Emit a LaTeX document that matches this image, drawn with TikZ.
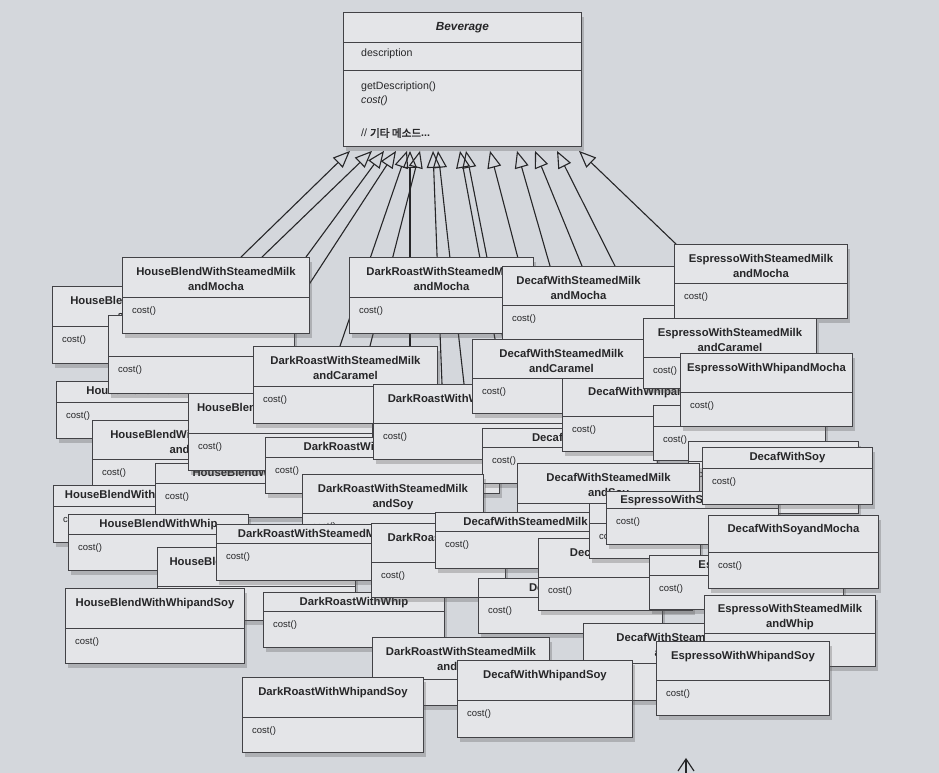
\documentclass[tikz,border=0pt]{standalone}
\usepackage{fontspec}
\setmainfont{Liberation Sans}
\newfontfamily\kofont{Noto Sans CJK KR}[AutoFakeBold=2]
\usepackage{xcolor}
\usepackage{tikz}
\usetikzlibrary{arrows.meta, positioning, calc, shadows}
\definecolor{paper}{RGB}{212,215,220}
\definecolor{clsfill}{RGB}{228,229,232}
\definecolor{clsborder}{RGB}{66,66,70}
\definecolor{inkgray}{RGB}{38,38,40}
\pgfdeclarelayer{background}
\pgfsetlayers{background,main}
\tikzstyle{cls} = [rectangle, anchor=north west, inner sep=0pt, draw=clsborder, fill=clsfill, line width=0.9pt, drop shadow={shadow xshift=3pt, shadow yshift=-5pt, fill=black!65, opacity=0.3}]
\tikzstyle{clsrule} = [draw=clsborder, line width=0.9pt]
\tikzstyle{clsname} = [anchor=north, inner sep=0pt, align=center, text=inkgray, font=\fontsize{11.3}{15}\selectfont\bfseries]
\tikzstyle{clsop} = [anchor=west, inner sep=0pt, text=inkgray, font=\fontsize{9.5}{11}\selectfont]
\tikzstyle{member} = [anchor=west, inner sep=0pt, text=inkgray, font=\fontsize{10.6}{12}\selectfont]
\tikzstyle{isa} = [draw=inkgray, line width=1.1pt, -{Triangle[open, length=17pt, width=14pt, line width=1.1pt]}]
% [name shift]{id}{left}{top}{width}{height}{header}{title}
\newcommand{\clsbox}[8][0]{%
  \node[cls, minimum width=#5pt, minimum height=#6pt] (#2) at (#3,#4) {};
  \draw[clsrule] ([yshift=-#7pt]#2.north west) -- ([yshift=-#7pt]#2.north east);
  \node[clsname] (#2-name) at ([xshift=#1pt, yshift={-#7pt/4}]#2.north) {#8};
  \node[clsop] (#2-op) at ([xshift=10pt, yshift={-#7pt-14pt}]#2.north west) {cost()};
}

\begin{document}
\begin{tikzpicture}[x=1pt, y=-1pt]
    \useasboundingbox (0,0) rectangle (939,773);
    \begin{pgfonlayer}{background}
        \fill[paper] (0,0) rectangle (939,773);
    \end{pgfonlayer}

    % Superclass
    \node[cls, minimum width=238pt, minimum height=134pt] (bev) at (343,12) {};
    \draw[clsrule] ([yshift=-30pt]bev.north west) -- ([yshift=-30pt]bev.north east);
    \draw[clsrule] ([yshift=-58pt]bev.north west) -- ([yshift=-58pt]bev.north east);
    \node[clsname, font=\fontsize{11.8}{15}\selectfont\bfseries\itshape] (bev-name) at ([yshift=-10pt]bev.north) {Beverage};
    \node[member] (bev-desc) at ([xshift=18pt, yshift=-42pt]bev.north west) {description};
    \node[member] (bev-get) at ([xshift=18pt, yshift=-75pt]bev.north west) {getDescription()};
    \node[member, font=\fontsize{10.6}{12}\selectfont\itshape] (bev-cost) at ([xshift=18pt, yshift=-89pt]bev.north west) {cost()};
    \node[member] (bev-etc) at ([xshift=18pt, yshift=-121pt]bev.north west) {// {\kofont\bfseries 기타 메소드}\textbf{...}};

    % Subclasses, back to front
    \clsbox{drsmm}{349}{257}{184}{76}{40}{DarkRoastWithSteamedMilk\\andMocha}
    \clsbox[-13]{dfsmm}{502}{266}{178}{74}{39}{DecafWithSteamedMilk\\andMocha}
    \clsbox{esmm}{674}{244}{173}{74}{39}{EspressoWithSteamedMilk\\andMocha}
    \clsbox{hbsmc}{52}{286}{195}{77}{40}{HouseBlendWithSteamedMilk\\andCaramel}
    \clsbox{hbm}{56}{381}{186}{57}{21}{HouseBlendWithMocha}
    \clsbox{hbsm}{108}{315}{186}{78}{41}{HouseBlendWithSteamedMilk}
    \clsbox{hbsmm}{122}{257}{187}{76}{40}{HouseBlendWithSteamedMilk\\andMocha}
    \clsbox{hbsms}{92}{420}{195}{67}{39}{HouseBlendWithSteamedMilk\\andSoy}
    \clsbox{hbs}{53}{485}{134}{57}{21}{HouseBlendWithSoy}
    \clsbox{hbwm}{155}{463}{248}{54}{20}{HouseBlendWithWhipandMocha}
    \clsbox{hbsoym}{188}{393}{184}{77}{40}{HouseBlendWithSoyandMocha}
    \clsbox{drsmc}{253}{346}{184}{77}{40}{DarkRoastWithSteamedMilk\\andCaramel}
    \clsbox{drsoym}{265}{437}{234}{56}{20}{DarkRoastWithSoyandMocha}
    \clsbox{drwm}{373}{384}{193}{75}{39}{DarkRoastWithWhipandMocha}
    \clsbox{dfsmc}{472}{339}{178}{74}{39}{DecafWithSteamedMilk\\andCaramel}
    \clsbox{dfsoy2}{482}{428}{175}{55}{19}{DecafWithSoy}
    \clsbox{dfwm}{562}{378}{190}{73}{38}{DecafWithWhipandMocha}
    \clsbox{esmc}{643}{318}{173}{70}{39}{EspressoWithSteamedMilk\\andCaramel}
    \clsbox{em}{653}{405}{172}{55}{21}{EspressoWithMocha}
    \clsbox{ewm}{680}{353}{172}{73}{39}{EspressoWithWhipandMocha}
    \clsbox{dfsoyw}{688}{441}{170}{72}{20}{}
    \clsbox{drsms}{302}{474}{181}{74}{39}{DarkRoastWithSteamedMilk\\andSoy}
    \clsbox{dfsms}{517}{463}{182}{77}{40}{DecafWithSteamedMilk\\andSoy}
    \clsbox{hbw}{68}{514}{180}{56}{20}{HouseBlendWithWhip}
    \clsbox{hbwmo}{157}{547}{198}{73}{39}{HouseBlendWithWhipandMocha}
    \clsbox{drw}{263}{592}{181}{55}{19}{DarkRoastWithWhip}
    \clsbox{drsm}{216}{524}{193}{56}{19}{DarkRoastWithSteamedMilk}
    \clsbox{drsoy}{371}{523}{134}{74}{39}{DarkRoastWithSoy}
    \clsbox{dfsm}{435}{512}{180}{56}{19}{DecafWithSteamedMilk}
    \clsbox{dfw}{478}{578}{184}{55}{19}{DecafWithWhip}
    \clsbox{dfm}{538}{538}{154}{72}{39}{DecafWithMocha}
    \clsbox{dfsw}{589}{503}{111}{55}{20}{}
    \clsbox{essm}{606}{491}{172}{53}{17}{EspressoWithSteamedMilk}
    \clsbox{dfsoy}{702}{447}{170}{57}{21}{DecafWithSoy}
    \clsbox{esoy}{649}{555}{194}{54}{20}{EspressoWithSoy}
    \clsbox{dfsoym}{708}{515}{170}{73}{37}{DecafWithSoyandMocha}
    \clsbox{hbws}{65}{588}{179}{75}{40}{HouseBlendWithWhipandSoy}
    \clsbox{drsmw}{372}{637}{177}{68}{42}{DarkRoastWithSteamedMilk\\andWhip}
    \clsbox{drws}{242}{677}{181}{75}{40}{DarkRoastWithWhipandSoy}
    \clsbox{dfsmw}{583}{623}{190}{77}{40}{DecafWithSteamedMilk\\andWhip}
    \clsbox{dfws}{457}{660}{175}{77}{40}{DecafWithWhipandSoy}
    \clsbox{esmw}{704}{595}{171}{71}{38}{EspressoWithSteamedMilk\\andWhip}
    \clsbox{ews}{656}{641}{173}{74}{39}{EspressoWithWhipandSoy}

    % Inheritance
    \foreach \n/\dx in {1/7, 2/29, 3/41, 4/53, 5/64, 6/77, 7/67, 8/90, 9/95, 10/117, 11/123, 12/147, 13/174, 14/192, 15/214, 16/236}
        \coordinate (t\n) at ([xshift=\dx pt, yshift=-4pt]bev.south west);
    \begin{pgfonlayer}{background}
        \foreach \src/\dx/\n in {hbsmm/119/1, hbsmm/140/2, hbsmm/184/3, drsmc/16/4, drsmc/87/5, drsmc/117/6,
                                 drwm/37/7, drwm/69/8, drwm/91/9, dfsmc/23/10, dfsmc/31/11,
                                 dfsmm/18/12, dfsmm/48/13, dfsmm/80/14, dfsmm/113/15, esmm/2/16}
            \draw[isa] ([xshift=\dx pt]\src.north west) -- (t\n);
    \end{pgfonlayer}

    % Arrow at page edge
    \coordinate (caret) at (686,759);
    \draw[inkgray, line width=1.2pt] ([xshift=-8pt, yshift=-12pt]caret) -- (caret) -- ([xshift=8pt, yshift=-12pt]caret);
    \draw[inkgray, line width=1.2pt] (caret) -- ([yshift=-14pt]caret);
\end{tikzpicture}
\end{document}
